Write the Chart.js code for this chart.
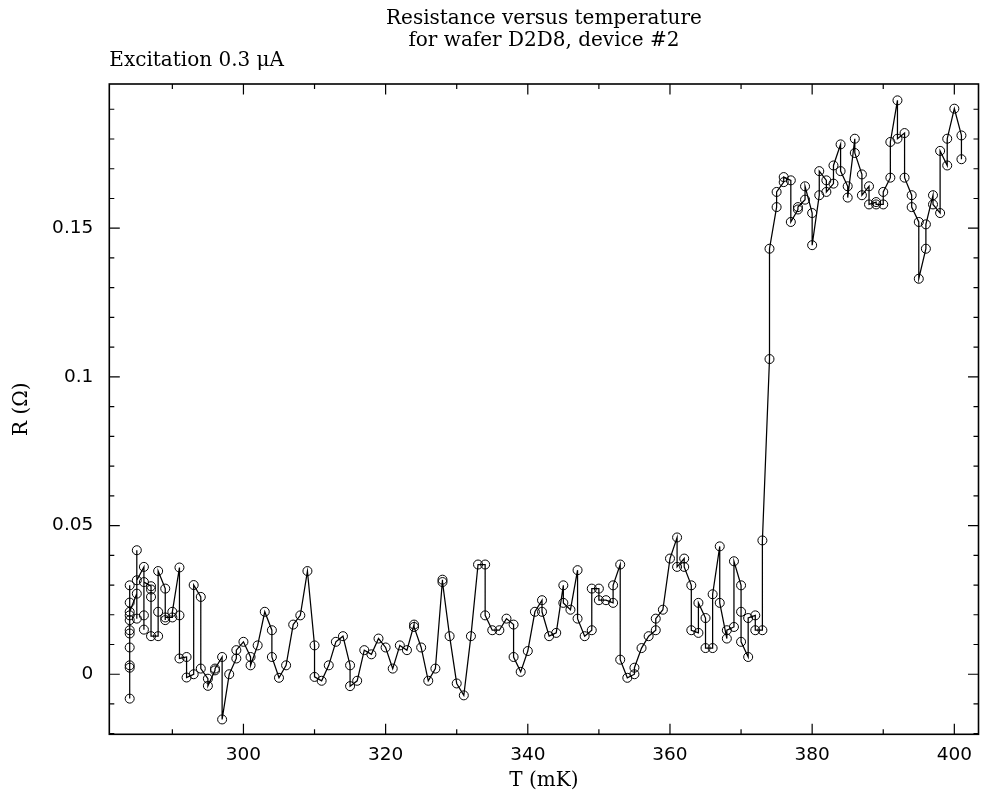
<!DOCTYPE html>
<html>
<head>
<meta charset="utf-8">
<script src="https://cdn.jsdelivr.net/npm/chart.js@4.4.1/dist/chart.umd.min.js"></script>
<style>
  html, body { margin: 0; padding: 0; background: #fff; }
  canvas { display: block; }
</style>
</head>
<body>
<canvas id="c" width="984" height="791"></canvas>
<script>
// Temperature (mK), in measurement/plot order
const temps = [
  284,284,284,284,284,284,284,284,284,284,284,
  285,285,285,285,
  286,286,286,286,
  287,287,287,287,
  288,288,288,
  289,289,289,
  290,290,
  291,291,291,
  292,292,
  293,293,
  294,294,
  295,295,
  296,296,
  297,297,
  298,
  299,299,
  300,
  301,301,
  302,303,
  304,304,
  305,306,307,308,309,
  310,310,
  311,312,313,314,
  315,315,
  316,317,318,319,320,321,322,323,
  324,324,
  325,326,327,
  328,328,
  329,330,331,332,333,
  334,334,
  335,336,337,
  338,338,
  339,340,341,
  342,342,
  343,344,
  345,345,
  346,
  347,347,
  348,
  349,349,
  350,350,
  351,
  352,352,
  353,353,
  354,
  355,355,
  356,357,
  358,358,
  359,360,
  361,361,
  362,362,
  363,363,
  364,364,
  365,365,
  366,366,
  367,367,
  368,368,
  369,369,
  370,370,370,
  371,371,
  372,372,
  373,373,
  374,374,
  375,375,
  376,376,
  377,377,
  378,378,
  379,379,
  380,380,
  381,381,
  382,382,
  383,383,
  384,384,
  385,385,
  386,386,
  387,387,
  388,388,
  389,389,
  390,390,
  391,391,
  392,392,
  393,393,
  394,394,
  395,395,
  396,396,
  397,397,
  398,398,
  399,399,
  400,
  401,401
];

// Resistance (Ohm), same order
const resistances = [
  0.0299,-0.0082,0.0022,0.0030,0.0090,0.0137,0.0148,0.0182,0.0198,0.0241,0.0210,
  0.0271,0.0417,0.0187,0.0316,
  0.0361,0.0150,0.0198,0.0310,
  0.0296,0.0285,0.0260,0.0128,
  0.0128,0.0210,0.0347,
  0.0288,0.0182,0.0191,
  0.0191,0.0210,
  0.0359,0.0198,0.0053,
  0.0058,-0.0011,
  0.0000,0.0300,
  0.0260,0.0019,
  -0.0015,-0.0039,
  0.0013,0.0019,
  0.0058,-0.0152,
  0.0000,
  0.0053,0.0081,
  0.0109,
  0.0058,0.0030,
  0.0097,0.0210,
  0.0148,0.0058,
  -0.0012,0.0030,0.0167,0.0198,0.0347,
  0.0097,-0.0009,
  -0.0022,0.0030,0.0109,0.0128,
  0.0030,-0.0040,
  -0.0022,0.0081,0.0067,0.0120,0.0090,0.0019,0.0097,0.0081,
  0.0167,0.0159,
  0.0090,-0.0022,0.0019,
  0.0318,0.0310,
  0.0128,-0.0031,-0.0071,0.0128,0.0369,
  0.0369,0.0198,
  0.0148,0.0148,0.0187,
  0.0167,0.0058,
  0.0008,0.0078,0.0210,
  0.0249,0.0210,
  0.0128,0.0139,
  0.0299,0.0240,
  0.0217,
  0.0350,0.0187,
  0.0128,
  0.0148,0.0288,
  0.0288,0.0249,
  0.0249,
  0.0240,0.0299,
  0.0369,0.0049,
  -0.0012,
  0.0000,0.0022,
  0.0088,0.0128,
  0.0148,0.0187,
  0.0217,0.0389,
  0.0460,0.0361,
  0.0389,0.0361,
  0.0299,0.0148,
  0.0139,0.0240,
  0.0189,0.0088,
  0.0088,0.0269,
  0.0430,0.0240,
  0.0120,0.0148,
  0.0159,0.0380,
  0.0299,0.0210,0.0109,
  0.0058,0.0189,
  0.0198,0.0148,
  0.0148,0.0450,
  0.1060,0.1431,
  0.1571,0.1622,
  0.1655,0.1672,
  0.1661,0.1521,
  0.1563,0.1571,
  0.1596,0.1641,
  0.1551,0.1443,
  0.1611,0.1692,
  0.1661,0.1622,
  0.1650,0.1711,
  0.1782,0.1692,
  0.1641,0.1603,
  0.1801,0.1753,
  0.1681,0.1611,
  0.1641,0.1580,
  0.1588,0.1580,
  0.1580,0.1622,
  0.1670,0.1790,
  0.1930,0.1801,
  0.1820,0.1670,
  0.1611,0.1571,
  0.1521,0.1330,
  0.1431,0.1513,
  0.1611,0.1580,
  0.1551,0.1760,
  0.1711,0.1801,
  0.1902,
  0.1812,0.1732
];

const xTickLabels = [300, 320, 340, 360, 380, 400];
const yTickLabels = [0, 0.05, 0.1, 0.15];

const titleLines = ['Resistance versus temperature', 'for wafer D2D8, device #2'];
const subtitleText = 'Excitation 0.3 \u03BCA';
const xTitle = 'T (mK)';
const yTitle = 'R (\u03A9)';

const xRange = [281.13, 403.4];
const yRange = [-0.0202, 0.1985];

const points = temps.map((t, i) => ({ x: t, y: resistances[i] }));

function isMajorX(v) { return xTickLabels.some(t => Math.abs(t - v) < 1e-6); }
function isMajorY(v) { return yTickLabels.some(t => Math.abs(t - v) < 1e-6); }

const frameTicks = {
  id: 'frameTicks',
  afterDraw(chart) {
    const ctx = chart.ctx;
    const a = chart.chartArea;
    const xs = chart.scales.x, ys = chart.scales.y;
    const MAJ = 10.5, MIN = 5;
    ctx.save();
    ctx.strokeStyle = '#000';
    ctx.lineWidth = 1.2;
    ctx.beginPath();
    xs.ticks.forEach(t => {
      const px = xs.getPixelForValue(t.value);
      if (px < a.left - 0.5 || px > a.right + 0.5) return;
      const L = isMajorX(t.value) ? MAJ : MIN;
      ctx.moveTo(px, a.bottom); ctx.lineTo(px, a.bottom - L);
      ctx.moveTo(px, a.top); ctx.lineTo(px, a.top + L);
    });
    ys.ticks.forEach(t => {
      const py = ys.getPixelForValue(t.value);
      if (py < a.top - 0.5 || py > a.bottom + 0.5) return;
      const L = isMajorY(t.value) ? MAJ : MIN;
      ctx.moveTo(a.left, py); ctx.lineTo(a.left + L, py);
      ctx.moveTo(a.right, py); ctx.lineTo(a.right - L, py);
    });
    ctx.stroke();
    ctx.lineWidth = 1.6;
    ctx.strokeRect(a.left, a.top, a.right - a.left, a.bottom - a.top);
    ctx.restore();
  }
};

new Chart(document.getElementById('c'), {
  type: 'line',
  data: {
    datasets: [{
      data: points,
      borderColor: '#000',
      borderWidth: 1.25,
      backgroundColor: 'rgba(0,0,0,0)',
      pointRadius: 4.5,
      pointBorderWidth: 1,
      pointBorderColor: '#000',
      pointBackgroundColor: 'rgba(0,0,0,0)',
      pointStyle: 'circle',
      tension: 0,
      fill: false,
      clip: false
    }]
  },
  options: {
    responsive: false,
    animation: false,
    devicePixelRatio: 1,
    layout: { padding: { left: 0, right: 3, top: 0, bottom: 0 } },
    plugins: {
      legend: { display: false },
      tooltip: { enabled: false },
      title: {
        display: true,
        text: titleLines,
        color: '#000',
        fullSize: false,
        font: { family: 'DejaVu Serif', size: 20, weight: 'normal', lineHeight: 1.1 },
        padding: { top: 8.1, bottom: 0 }
      },
      subtitle: {
        display: true,
        text: subtitleText,
        align: 'start',
        color: '#000',
        fullSize: false,
        font: { family: 'DejaVu Serif', size: 20, weight: 'normal', lineHeight: 0.9 },
        padding: { top: 0, bottom: 13.9 }
      }
    },
    scales: {
      x: {
        type: 'linear',
        min: xRange[0],
        max: xRange[1],
        afterFit(s) { s.height = 56.7; },
        grid: { display: false, drawTicks: false },
        border: { display: false },
        ticks: {
          stepSize: 10,
          autoSkip: false,
          includeBounds: false,
          maxRotation: 0,
          padding: 10,
          color: '#000',
          font: { family: 'DejaVu Sans', size: 18.5 },
          callback: v => isMajorX(v) ? String(Math.round(v)) : ''
        },
        title: {
          display: true,
          text: xTitle,
          color: '#000',
          font: { family: 'DejaVu Serif', size: 20, lineHeight: 1.0 },
          padding: { top: 0, bottom: 0 }
        }
      },
      y: {
        type: 'linear',
        min: yRange[0],
        max: yRange[1],
        afterFit(s) { s.width = 109.3; },
        grid: { display: false, drawTicks: false },
        border: { display: false },
        ticks: {
          stepSize: 0.01,
          autoSkip: false,
          includeBounds: false,
          padding: 16,
          color: '#000',
          font: { family: 'DejaVu Sans', size: 18.5 },
          callback: v => isMajorY(v) ? String(Math.round(v * 100) / 100) : ''
        },
        title: {
          display: true,
          text: yTitle,
          color: '#000',
          font: { family: 'DejaVu Serif', size: 20, lineHeight: 1.2 },
          padding: { top: 9.8, bottom: 0 }
        }
      }
    }
  },
  plugins: [frameTicks]
});
</script>
</body>
</html>
